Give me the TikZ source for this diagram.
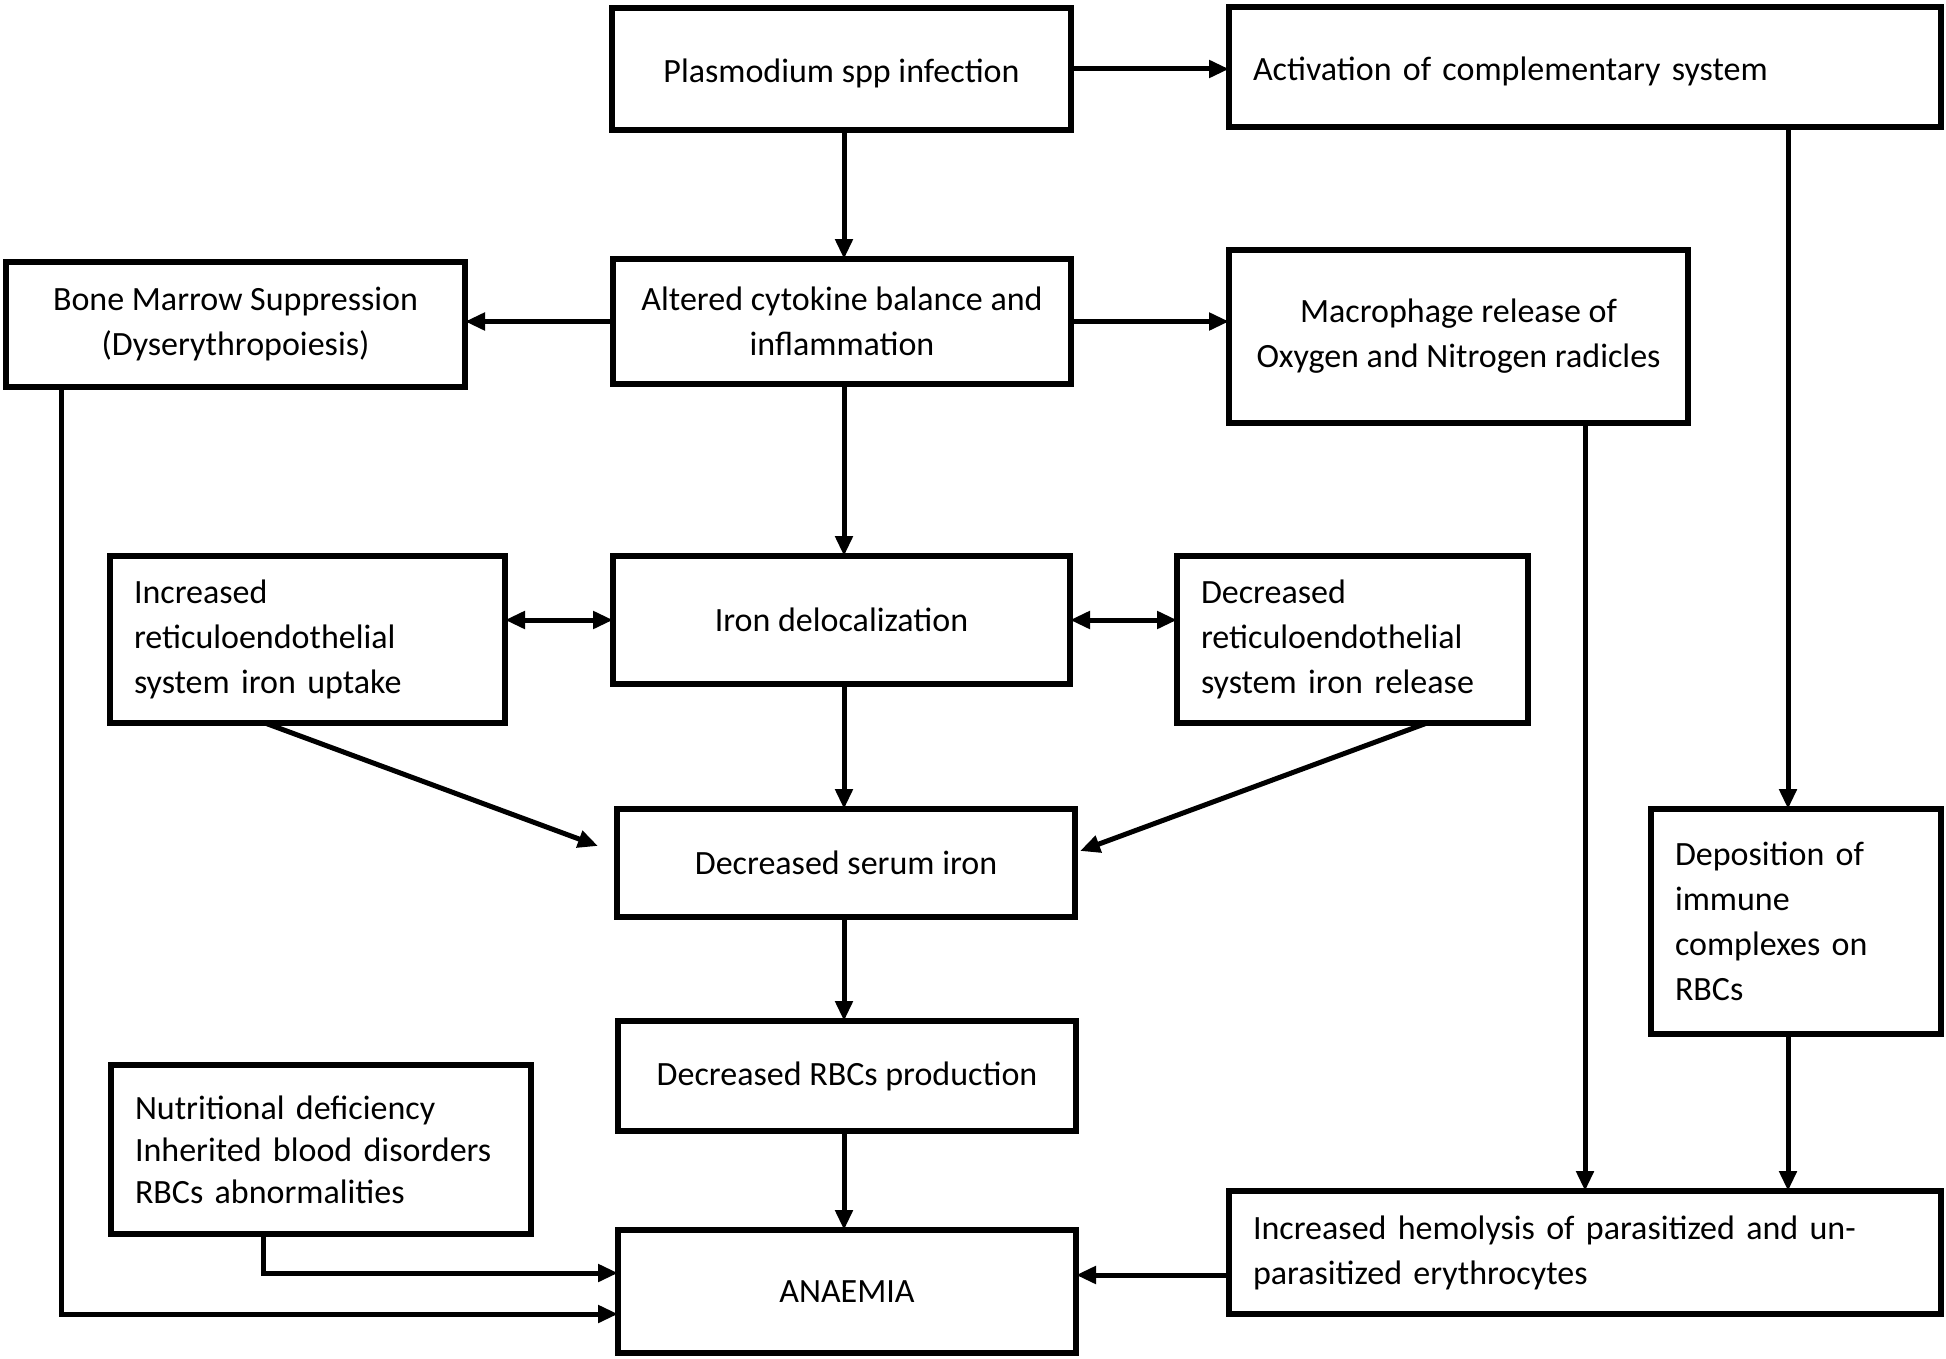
\documentclass[tikz,border=0pt]{standalone}
\usepackage{fontspec}
\setmainfont{Carlito}
\usetikzlibrary{arrows.meta,calc}
\begin{document}
\begin{tikzpicture}[x=1pt,y=-1pt,
  box/.style={draw, line width=6pt, inner sep=0pt, outer sep=0pt, align=center,
    font=\fontsize{34}{45}\selectfont},
  lbox/.style={box, align=left, inner xsep=24pt},
  low/.style={text height=30pt, text depth=3pt},
  arr/.style={line width=5pt, -{Triangle[length=20pt,width=17pt]}},
  darr/.style={line width=5pt, {Triangle[length=20pt,width=17pt]}-{Triangle[length=20pt,width=17pt]}}]
\useasboundingbox[fill=white] (0,0) rectangle (1946,1359);

\node[box, low, minimum width=459pt, minimum height=122pt] (plas) at (841.5,69) {Plasmodium spp infection};
\node[lbox, low, text width=664pt, minimum height=120pt] (act) at (1585,67) {Activation of complementary system};
\node[box, minimum width=459pt, minimum height=125pt] (bone) at (235.5,324.5) {Bone Marrow Suppression\\(Dyserythropoiesis)};
\node[box, minimum width=458pt, minimum height=125pt] (alt) at (842,321.5) {Altered cytokine balance and\\inflammation};
\node[box, minimum width=459pt, minimum height=173pt] (mac) at (1458.5,336.5) {Macrophage release of\\Oxygen and Nitrogen radicles};
\node[lbox, text width=347pt, minimum height=167pt] (incres) at (307.5,639.5) {Increased\\reticuloendothelial\\system iron uptake};
\node[box, minimum width=457pt, minimum height=128pt] (iron) at (841.5,620) {Iron delocalization};
\node[lbox, text width=303pt, minimum height=167pt] (decres) at (1352.5,639.5) {Decreased\\reticuloendothelial\\system iron release};
\node[box, minimum width=458pt, minimum height=108pt] (serum) at (846,863) {Decreased serum iron};
\node[lbox, text width=242pt, minimum height=225pt] (dep) at (1796,921.5) {Deposition of\\immune\\complexes on\\RBCs};
\node[box, minimum width=458pt, minimum height=110pt] (rbc) at (847,1076) {Decreased RBCs production};
\node[lbox, text width=372pt, minimum height=169pt, font=\fontsize{34}{42}\selectfont] (nut) at (321,1149.5) {Nutritional deficiency\\Inherited blood disorders\\RBCs abnormalities};
\node[box, minimum width=458pt, minimum height=123pt] (anaemia) at (847,1291.5) {ANAEMIA};
\node[lbox, text width=664pt, minimum height=123pt] (hemo) at (1585,1252.5) {Increased hemolysis of parasitized and un-\\parasitized erythrocytes};

\coordinate (cx) at (844,0);
\coordinate (ax) at (1788,0);
\coordinate (mx) at (1585,0);
\coordinate (bx) at (61,0);
\coordinate (by) at (0,1314);
\coordinate (nx) at (263,0);
\coordinate (ny) at (0,1273);
\coordinate (hy) at (0,1275);
\coordinate (d1) at (265,0);
\coordinate (t1) at (598,846);
\coordinate (d2) at (1427,0);
\coordinate (t2) at (1080,851);

\draw[arr] (plas.south -| cx) -- (alt.north -| cx);
\draw[arr] (alt.south -| cx) -- (iron.north -| cx);
\draw[arr] (iron.south -| cx) -- (serum.north -| cx);
\draw[arr] (serum.south -| cx) -- (rbc.north -| cx);
\draw[arr] (rbc.south -| cx) -- (anaemia.north -| cx);
\draw[arr] (plas.east) -- (plas.east -| act.west);
\draw[arr] (alt.west) -- (alt.west -| bone.east);
\draw[arr] (alt.east) -- (alt.east -| mac.west);
\draw[arr] (act.south -| ax) -- (dep.north -| ax);
\draw[arr] (dep.south -| ax) -- (hemo.north -| ax);
\draw[arr] (mac.south -| mx) -- (hemo.north -| mx);
\draw[darr] (iron.west -| incres.east) -- (iron.west);
\draw[darr] (iron.east) -- (iron.east -| decres.west);
\draw[arr] (incres.south -| d1) -- (t1);
\draw[arr] (decres.south -| d2) -- (t2);
\draw[arr] (bone.south -| bx) -- (bx |- by) -- (anaemia.west |- by);
\draw[arr] (nut.south -| nx) -- (nx |- ny) -- (anaemia.west |- ny);
\draw[arr] (hemo.west |- hy) -- (anaemia.east |- hy);
\end{tikzpicture}
\end{document}
